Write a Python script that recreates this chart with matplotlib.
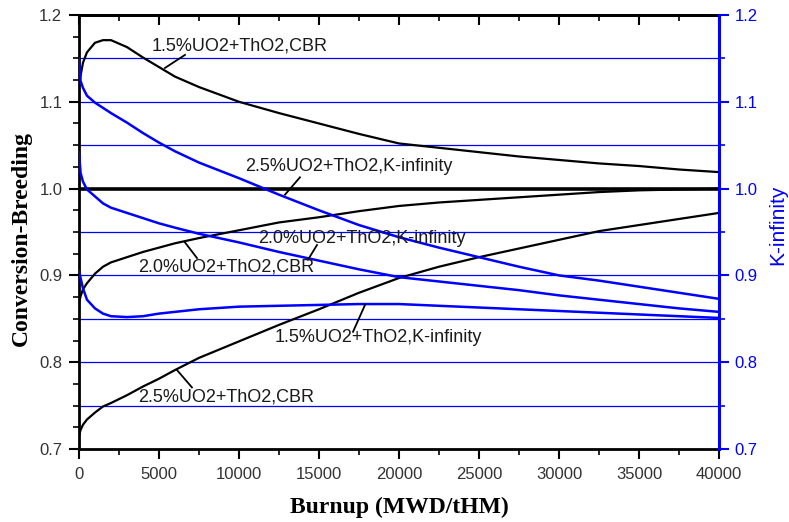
import matplotlib.pyplot as plt
import numpy as np

plt.rcParams['font.family'] = ['Liberation Sans', 'DejaVu Sans']

# burnup steps (MWD/tHM)
burnup = [0, 100, 250, 500, 1000, 1500, 2000, 3000, 4000, 5000, 6000, 7500,
          10000, 12500, 15000, 17500, 20000, 22500, 25000, 27500, 30000,
          32500, 35000, 37500, 40000]

# conversion-breeding ratio (left axis)
cbr_15 = [1.119, 1.130, 1.145, 1.157, 1.168, 1.171, 1.171, 1.163, 1.151, 1.140,
          1.129, 1.117, 1.100, 1.087, 1.075, 1.063, 1.052, 1.047, 1.042, 1.037,
          1.033, 1.029, 1.026, 1.022, 1.019]
cbr_20 = [0.868, 0.876, 0.884, 0.891, 0.902, 0.910, 0.915, 0.921, 0.927, 0.932,
          0.937, 0.943, 0.952, 0.961, 0.967, 0.974, 0.980, 0.984, 0.987, 0.990,
          0.993, 0.996, 0.998, 0.999, 1.000]
cbr_25 = [0.715, 0.722, 0.728, 0.734, 0.742, 0.749, 0.753, 0.762, 0.772, 0.781,
          0.791, 0.805, 0.824, 0.843, 0.861, 0.880, 0.897, 0.910, 0.921, 0.931,
          0.941, 0.951, 0.958, 0.965, 0.972]

# k-infinity (right axis)
kinf_15 = [0.905, 0.897, 0.885, 0.872, 0.862, 0.856, 0.853, 0.852, 0.853, 0.856,
           0.858, 0.861, 0.864, 0.865, 0.866, 0.867, 0.867, 0.865, 0.863, 0.861,
           0.859, 0.857, 0.855, 0.853, 0.851]
kinf_20 = [1.042, 1.018, 1.008, 0.999, 0.991, 0.983, 0.978, 0.972, 0.966, 0.960,
           0.955, 0.948, 0.938, 0.927, 0.917, 0.907, 0.898, 0.893, 0.888, 0.883,
           0.877, 0.872, 0.867, 0.862, 0.858]
kinf_25 = [1.150, 1.124, 1.116, 1.107, 1.099, 1.093, 1.087, 1.076, 1.064, 1.053,
           1.043, 1.030, 1.012, 0.993, 0.975, 0.958, 0.944, 0.932, 0.921, 0.910,
           0.900, 0.894, 0.887, 0.880, 0.873]

grid_levels = [0.75, 0.80, 0.85, 0.90, 0.95, 1.05, 1.10, 1.15]

# curve labels: text, text position, pointer start, pointer end (data coords)
labels = [
    ("1.5%UO2+ThO2,CBR", (4560, 1.164), (6625, 1.154), (5375, 1.139)),
    ("2.5%UO2+ThO2,K-infinity", (10375, 1.025), (13810, 1.013), (12875, 0.993)),
    ("2.0%UO2+ThO2,K-infinity", (11190, 0.943), (14875, 0.935), (14310, 0.918)),
    ("2.0%UO2+ThO2,CBR", (3690, 0.910), (7375, 0.920), (6625, 0.938)),
    ("1.5%UO2+ThO2,K-infinity", (12250, 0.829), (17125, 0.835), (17875, 0.866)),
    ("2.5%UO2+ThO2,CBR", (3690, 0.760), (7060, 0.771), (6125, 0.791)),
]

blue = '#0000ff'

fig = plt.figure(figsize=(7.89, 5.22), dpi=100)
ax = fig.add_axes([0.1001, 0.1398, 0.8112, 0.8315])
ax2 = ax.twinx()

for lev in grid_levels:
    ax.axhline(lev, color=blue, lw=0.9, zorder=1)
ax.axhline(1.0, color='black', lw=2.6, zorder=2)

ax.plot(burnup, cbr_15, color='black', lw=1.6, zorder=3)
ax.plot(burnup, cbr_20, color='black', lw=1.6, zorder=3)
ax.plot(burnup, cbr_25, color='black', lw=1.6, zorder=3)

ax2.plot(burnup, kinf_15, color=blue, lw=1.8)
ax2.plot(burnup, kinf_20, color=blue, lw=1.8)
ax2.plot(burnup, kinf_25, color=blue, lw=1.8)

for txt, pos, p0, p1 in labels:
    ax2.text(pos[0], pos[1], txt, fontsize=13, color='#1a1a1a',
             ha='left', va='center')
    ax2.plot([p0[0], p1[0]], [p0[1], p1[1]], color='black', lw=1.3)

ax.set_xlim(0, 40000)
ax.set_ylim(0.7, 1.2)
ax2.set_ylim(0.7, 1.2)

yt = np.round(np.arange(0.7, 1.21, 0.1), 1)
ax.set_xticks(np.arange(0, 40001, 5000))
ax.set_xticks(np.arange(0, 40001, 2500), minor=True)
ax.set_yticks(yt)
ax.set_yticklabels(['%.1f' % v for v in yt])
ax.set_yticks(np.arange(0.7, 1.2001, 0.025), minor=True)
ax2.set_yticks(yt)
ax2.set_yticklabels(['%.1f' % v for v in yt])
ax2.set_yticks(np.arange(0.7, 1.2001, 0.05), minor=True)

ax.tick_params(axis='both', which='major', direction='out', length=7, width=1.5,
               labelsize=12, labelcolor='#333333', top=False, right=False)
ax.tick_params(axis='both', which='minor', direction='out', length=4, width=1.2,
               top=False, right=False)
ax.tick_params(axis='x', pad=6)
ax.tick_params(axis='y', pad=5)

top = ax.secondary_xaxis('top')
top.set_xticks(np.arange(0, 40001, 5000))
top.set_xticks(np.arange(0, 40001, 2500), minor=True)
top.tick_params(which='major', direction='in', length=7, width=1.5, labeltop=False)
top.tick_params(which='minor', direction='in', length=4, width=1.2)
top.spines['top'].set_linewidth(2)

ax2.tick_params(axis='y', which='major', direction='out', length=7, width=1.5,
                colors=blue, labelsize=12, pad=4)
ax2.tick_params(axis='y', which='minor', direction='out', length=4, width=1.2,
                colors=blue)

for s in ['left', 'bottom', 'top']:
    ax.spines[s].set_linewidth(2)
ax.spines['right'].set_visible(False)
for s in ['left', 'bottom', 'top']:
    ax2.spines[s].set_visible(False)
ax2.spines['right'].set_color(blue)
ax2.spines['right'].set_linewidth(2.2)

ax.text(-0.0906, 0.486, 'Conversion-Breeding', transform=ax.transAxes,
        rotation=90, ha='center', va='center', fontsize=17,
        fontfamily='Liberation Serif', fontweight='bold')
ax.text(0.5, -0.1336, 'Burnup (MWD/tHM)', transform=ax.transAxes,
        ha='center', va='center', fontsize=17,
        fontfamily='Liberation Serif', fontweight='bold')
ax.text(1.092, 0.516, 'K-infinity', transform=ax.transAxes, rotation=90,
        ha='center', va='center', fontsize=15, color=blue)

fig.savefig('out.png', dpi=100)
